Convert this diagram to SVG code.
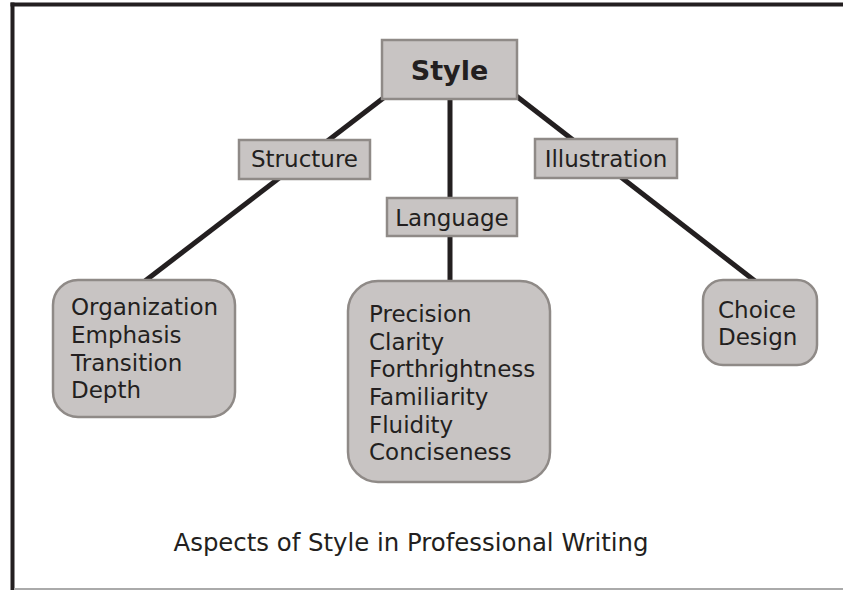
<svg xmlns="http://www.w3.org/2000/svg" width="843" height="590" viewBox="0 0 843 590">
  <style>
    .box { fill: #c8c4c3; stroke: #8f8a87; stroke-width: 2.5; }
    .link { stroke: #231f20; stroke-width: 5; fill: none; }
    text { font-family: "DejaVu Sans", Verdana, sans-serif; fill: #231f20; }
    .lbl { font-size: 23px; }
    .mid { text-anchor: middle; }
  </style>
  <rect width="843" height="590" fill="#ffffff"/>
  <!-- frame -->
  <g id="frame">
    <line x1="10.5" y1="4.5" x2="843" y2="4.5" stroke="#231f20" stroke-width="4"/>
    <line x1="12.5" y1="2.5" x2="12.5" y2="590" stroke="#231f20" stroke-width="4"/>
    <line x1="14" y1="589" x2="843" y2="589" stroke="#aaaaaa" stroke-width="2"/>
  </g>
  <!-- connectors -->
  <g id="connectors">
    <line class="link" x1="386" y1="96" x2="145" y2="281"/>
    <line class="link" x1="450" y1="99" x2="450" y2="282"/>
    <line class="link" x1="515" y1="95" x2="755" y2="281"/>
  </g>
  <g id="style">
    <rect class="box" x="382" y="40" width="135" height="59"/>
    <text x="449.5" y="80" class="mid" font-size="27" font-weight="bold">Style</text>
  </g>
  <g id="structure">
    <rect class="box" x="239" y="140" width="131" height="39"/>
    <text x="304.5" y="167" class="mid lbl">Structure</text>
  </g>
  <g id="language">
    <rect class="box" x="387" y="198" width="130" height="38"/>
    <text x="452" y="226" class="mid lbl">Language</text>
  </g>
  <g id="illustration">
    <rect class="box" x="535" y="139" width="142" height="39"/>
    <text x="606" y="167" class="mid lbl">Illustration</text>
  </g>
  <g id="structure-items">
    <rect class="box" x="53" y="280" width="182" height="137" rx="25"/>
    <text class="lbl" x="71" y="315">Organization</text>
    <text class="lbl" x="71" y="343">Emphasis</text>
    <text class="lbl" x="71" y="371">Transition</text>
    <text class="lbl" x="71" y="398">Depth</text>
  </g>
  <g id="language-items">
    <rect class="box" x="348" y="281" width="202" height="201" rx="30"/>
    <text class="lbl" x="369" y="322">Precision</text>
    <text class="lbl" x="369" y="350">Clarity</text>
    <text class="lbl" x="369" y="377">Forthrightness</text>
    <text class="lbl" x="369" y="405">Familiarity</text>
    <text class="lbl" x="369" y="433">Fluidity</text>
    <text class="lbl" x="369" y="460">Conciseness</text>
  </g>
  <g id="illustration-items">
    <rect class="box" x="703" y="280" width="114" height="85" rx="20"/>
    <text class="lbl" x="718" y="318">Choice</text>
    <text class="lbl" x="718" y="345">Design</text>
  </g>
  <text id="caption" x="411" y="551" class="mid" font-size="24.4">Aspects of Style in Professional Writing</text>
</svg>
